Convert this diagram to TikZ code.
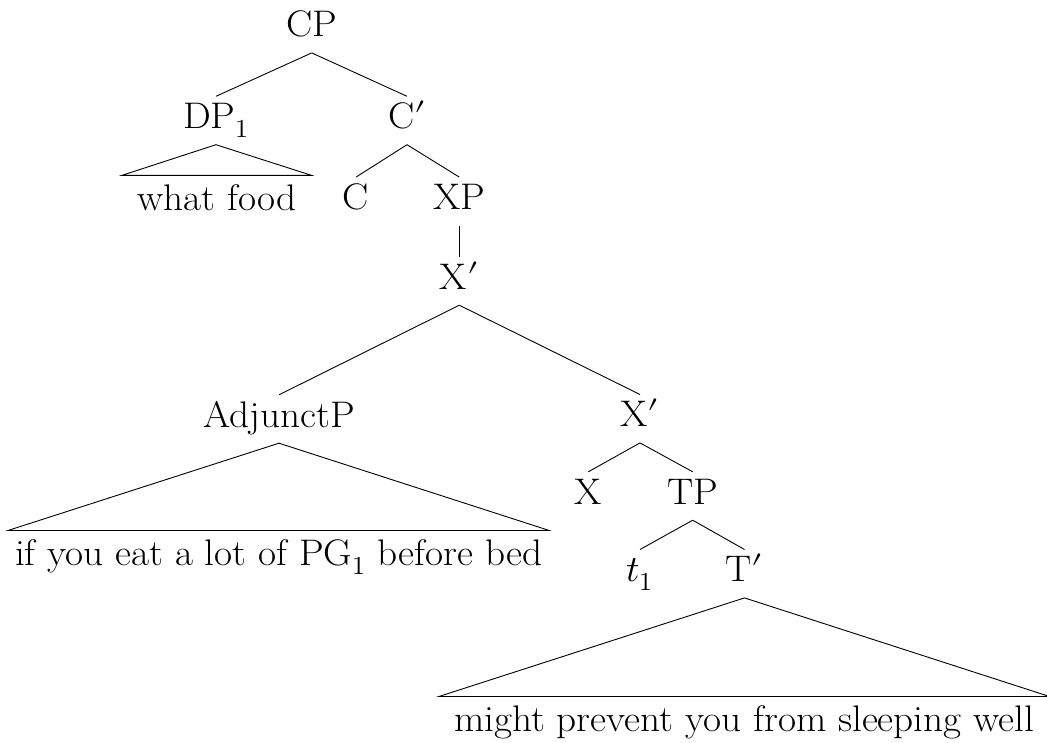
\documentclass[tikz,border=0pt]{standalone}
\usepackage{fontspec}
\usepackage{unicode-math}
\setmainfont{Latin Modern Roman}[FakeStretch=1.06]
\setmathfont{Latin Modern Math}
\begin{document}
\begin{tikzpicture}[x=1pt,y=-1pt,
  lbl/.style={anchor=base, inner xsep=2pt, inner ysep=8pt, text height=24pt, text depth=8pt,
              font=\fontsize{37}{42}\selectfont},
  roof/.style={lbl, inner xsep=15pt, inner ysep=11pt, text depth=0pt},
  branch/.style={line width=0.9pt, line join=miter}]
\useasboundingbox (0,0) rectangle (1047,742);

% labels
\node[lbl] (cp)   at (311.7,36.7)  {CP};
\node[lbl] (dp)   at (216,128.5)   {DP$_1$};
\node[lbl] (cbar) at (407,128.5)   {C$\prime$};
\node[roof] (wf)  at (216.7,210.5) {what food};
\node[lbl] (c)    at (356,209.3)   {C};
\node[lbl] (xp)   at (459.3,209.3) {XP};
\node[lbl] (xbar) at (459.3,289)   {X$\prime$};
\node[lbl] (adj)  at (279,427)     {AdjunctP};
\node[lbl] (xbarb) at (640,426.7)  {X$\prime$};
\node[roof, inner xsep=7pt] (adjt) at (278.6,565.7) {if you eat a lot of PG$_1$ before bed};
\node[lbl] (x)    at (588.3,504)   {X};
\node[lbl] (tp)   at (692.7,504)   {TP};
\node[lbl] (t)    at (640,581.7)   {$t_1$};
\node[lbl] (tbar) at (744.5,581.7) {T$\prime$};
\node[roof] (vp)  at (744.2,731.7) {might prevent you from sleeping well};

% branches
\draw[branch] (cp.south) -- (dp.north);
\draw[branch] (cp.south) -- (cbar.north);
\draw[branch] (dp.south) -- (wf.north west) -- (wf.north east) -- cycle;
\draw[branch] (cbar.south) -- (c.north);
\draw[branch] (cbar.south) -- (xp.north);
\draw[branch] (xp.south) -- (xbar.north);
\draw[branch] (xbar.south) -- (adj.north);
\draw[branch] (xbar.south) -- (xbarb.north);
\draw[branch] (adj.south) -- (adjt.north west) -- (adjt.north east) -- cycle;
\draw[branch] (xbarb.south) -- (x.north);
\draw[branch] (xbarb.south) -- (tp.north);
\draw[branch] (tp.south) -- (t.north);
\draw[branch] (tp.south) -- (tbar.north);
\draw[branch] (tbar.south) -- (vp.north west) -- (vp.north east) -- cycle;
\end{tikzpicture}
\end{document}
